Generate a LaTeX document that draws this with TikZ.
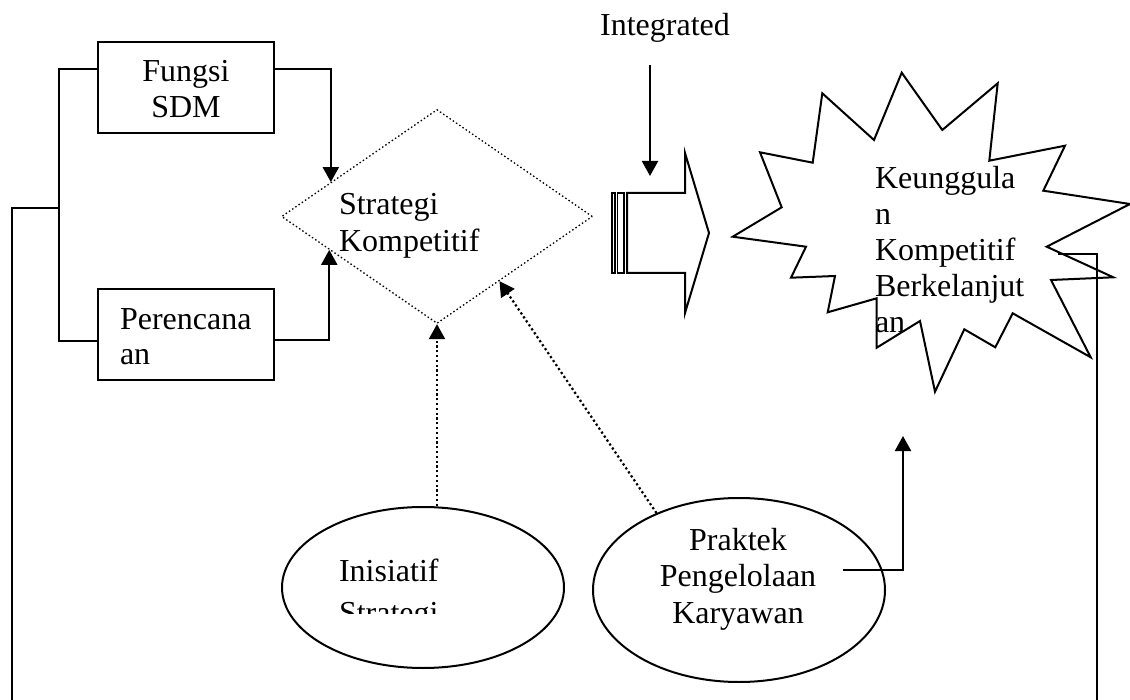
\documentclass[tikz,border=0pt]{standalone}
\usepackage{fontspec}
\setmainfont{Liberation Serif}
\usetikzlibrary{shapes.geometric,arrows.meta,calc}
\newcommand{\mlines}[2][l]{\begin{tabular}[t]{@{}#1@{}}#2\end{tabular}}
\begin{document}
\begin{tikzpicture}[x=1pt,y=-1pt,
  font=\fontsize{32pt}{36pt}\selectfont,
  line width=2pt,
  box/.style={draw, rectangle, minimum width=176pt, minimum height=91pt, inner sep=0pt},
  txt/.style={inner sep=0pt, anchor=base west},
  oval/.style={draw, ellipse, inner sep=0pt},
  arr/.style={-{Triangle[width=16pt,length=15pt]}, line width=2.2pt},
  darr/.style={arr, dash pattern=on 2.2pt off 2.6pt},
  dia/.style={draw, diamond, inner sep=0pt, line width=1.3pt, dash pattern=on 1.5pt off 2.4pt}
]
\fill[white] (0,0) rectangle (1130,700);
\useasboundingbox (0,0) rectangle (1130,700);

% boxes
\node[box] (fs) at (186,87.5) {};
\node[txt, anchor=base] (fst) at (186,82) {\mlines[c]{Fungsi\\SDM}};
\node[box] (pr) at (186,334.5) {};
\node[txt, font=\fontsize{32pt}{35pt}\selectfont] (prt) at (119,330) {\mlines{Perencana\\an}};

% diamond
\node[dia, minimum width=311pt, minimum height=214pt] (sk) at (437,216.5) {};
\node[txt, font=\fontsize{32pt}{37pt}\selectfont] (skt) at (338,215) {\mlines{Strategi\\Kompetitif}};

% integrated
\node[txt, anchor=base] (int) at (665,36) {Integrated};
\coordinate (intA) at (650,65);
\coordinate (intB) at (650,176);
\draw[arr] (intA) -- (intB);

% striped block arrow
\draw[line width=1.5pt] (612,193) rectangle (615,273);
\draw[line width=1.5pt] (617.5,193) rectangle (624,273);
\draw[line width=2pt, line join=miter] (627,193) -- (685,193) -- (685,153) -- (709,233) -- (685,313) -- (685,273) -- (627,273) -- cycle;

% star
\draw[line width=2pt, line join=miter]
 (901.7,72.7) -- (942.3,130) -- (997.7,83.3) -- (989.3,160.7) -- (1065,145.7)
 -- (1043.3,190.7) -- (1130,204) -- (1046.7,246.7) -- (1113.3,277.3) -- (1051,280)
 -- (1090.7,357.3) -- (1012.7,313.3) -- (995.3,347.3) -- (964.3,329.3) -- (935,391.7)
 -- (920,321) -- (876.7,347.7) -- (876.7,298.3) -- (827.7,312.3) -- (835,276)
 -- (791,277.7) -- (806,246.7) -- (732.7,236.7) -- (781.7,207.3) -- (760,152.3)
 -- (812.7,162.7) -- (822.3,93.3) -- (874,140) -- cycle;
\node[txt] (kkb) at (874,189) {\mlines{Keunggula\\n\\Kompetitif\\Berkelanjut\\an}};

% ellipses
\node[oval, minimum width=282pt, minimum height=161pt] (is) at (423,587.5) {};
\begin{scope}
\clip (300,540) rectangle (560,613);
\node[txt, font=\fontsize{32pt}{42pt}\selectfont] (ist) at (338,581) {\mlines{Inisiatif\\Strategi}};
\end{scope}
\node[oval, minimum width=292pt, minimum height=184pt] (pk) at (739,590) {};
\node[txt, anchor=base, font=\fontsize{32pt}{36.5pt}\selectfont] (pkt) at (738,550) {\mlines[c]{Praktek\\Pengelolaan\\Karyawan}};

% connectors
\coordinate (fsin) at ($(sk.west)!0.32!(sk.north)$);
\coordinate (prin) at ($(sk.west)!0.31!(sk.south)$);
\draw[arr] ([yshift=18.5pt]fs.east) -| (fsin);
\draw[arr] ([yshift=-5.5pt]pr.east) -| (prin);
\coordinate (lj) at (59,208);
\coordinate (lb) at (12,700);
\draw ([yshift=18.5pt]fs.west) -| (lj) |- ([yshift=-6.5pt]pr.west);
\draw (lj) -| (lb);
\coordinate (sr) at (1058,254);
\coordinate (rb) at (1097,700);
\draw (sr) -| (rb);
\coordinate (pkout) at (843,570);
\coordinate (stin) at (903,436);
\draw[arr] (pkout) -| (stin);
\draw[darr] (is.north -| sk.south) -- (sk.south);
\coordinate (skpk) at ($(sk.south)!0.4!(sk.east)$);
\draw[darr] (pk.137) -- (skpk);
\end{tikzpicture}
\end{document}
